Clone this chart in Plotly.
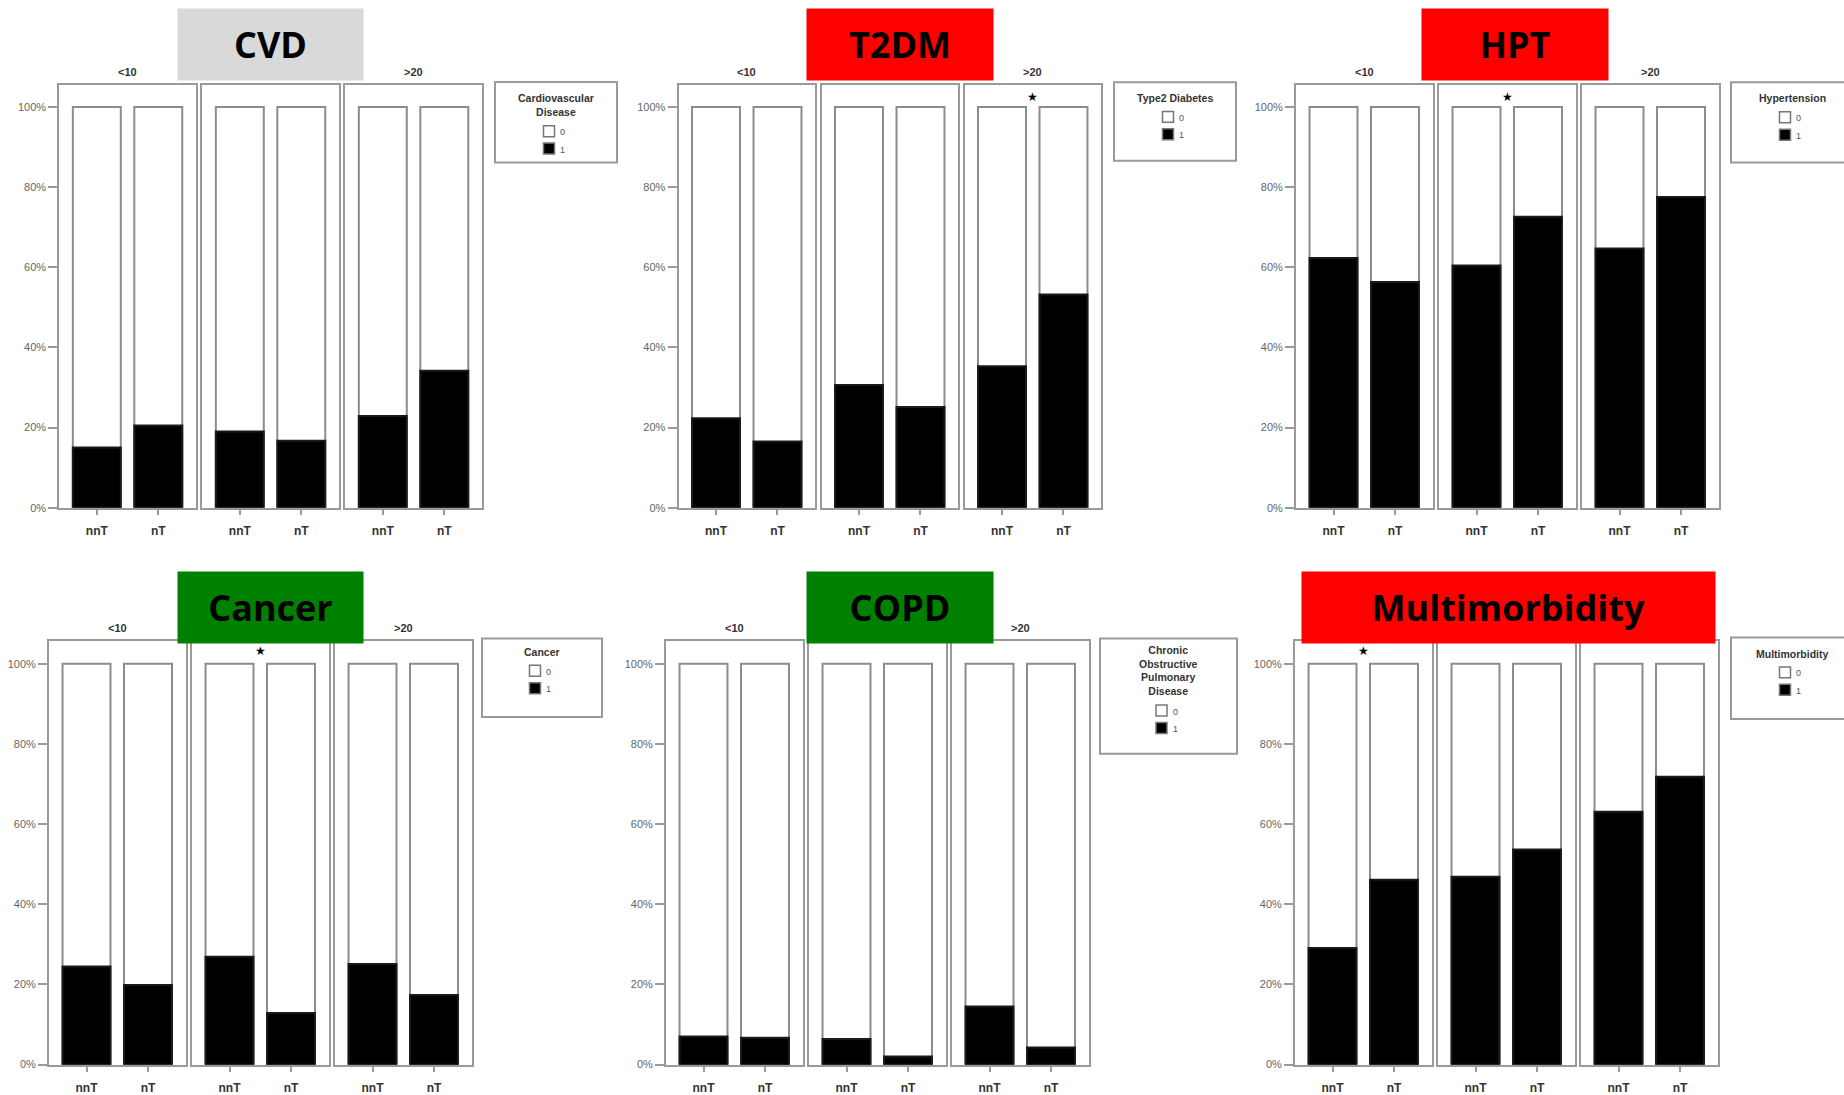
import plotly.graph_objects as go

# ---------------- data ----------------
groups = ["<10", "10–20", ">20"]
categories = ["nnT", "nT"]
outcomes = ["CVD", "T2DM", "HPT", "Cancer", "COPD", "Multimorbidity"]
legend_titles = ["Cardiovascular<br>Disease", "Type2 Diabetes", "Hypertension",
                 "Cancer", "Chronic<br>Obstructive<br>Pulmonary<br>Disease", "Multimorbidity"]
legend_levels = ["0", "1"]
title_colors = ["#d9d9d9", "#ff0000", "#ff0000", "#008000", "#008000", "#ff0000"]

total_pct = 100
cvd_nnT = [15.0, 19.0, 22.9]
cvd_nT = [20.5, 16.7, 34.2]
t2dm_nnT = [22.3, 30.6, 35.3]
t2dm_nT = [16.5, 25.1, 53.2]
hpt_nnT = [62.3, 60.4, 64.7]
hpt_nT = [56.3, 72.6, 77.5]
cancer_nnT = [24.5, 26.9, 25.1]
cancer_nT = [19.9, 12.9, 17.4]
copd_nnT = [7.0, 6.4, 14.5]
copd_nT = [6.7, 2.0, 4.3]
multi_nnT = [29.1, 46.9, 63.1]
multi_nT = [46.1, 53.7, 71.8]

# index of the age group marked significant (*) per outcome, None if none
significant_group = [None, 2, 1, 1, None, 0]

y_tickvals = [0, 20, 40, 60, 80, 100]
y_ticktext = ["0%", "20%", "40%", "60%", "80%", "100%"]

values_nnT = [cvd_nnT, t2dm_nnT, hpt_nnT, cancer_nnT, copd_nnT, multi_nnT]
values_nT = [cvd_nT, t2dm_nT, hpt_nT, cancer_nT, copd_nT, multi_nT]

# ---------------- layout geometry (pixels) ----------------
W, H = 1844, 1095
PANEL_X0 = [59.3, 678.5, 1296, 49, 666, 1295]
PANEL_W = 136.5
GAP = 6.5
ROW_Y = [(85, 510.5), (645, 1070.5)]          # frame top, 0% line
FACET_Y = [72.7, 631.5]
STAR_Y = [98, 655]
TITLE_BOX = [(177.5, 362.5, 9.5, 80.5), (806.5, 992.5, 9.5, 80.5), (1422, 1608, 9.5, 80.5),
             (177.5, 362.5, 575, 646), (806.5, 992.5, 575, 646), (1302, 1714.5, 575, 646)]
LEGEND_BOX = [(495, 617, 82.5, 163.5, 98.4), (1114, 1236, 82.7, 161.7, 98), (1731, 1853, 82.7, 163.4, 98.4),
              (482, 602, 642, 721, 655), (1100, 1237, 642, 758, 653), (1731, 1853, 641, 723, 656.6)]

FRAME = "#9a9a9a"
SMALL_FONT = "Liberation Sans"


def px(x):
    return x / W


def py(y):
    return 1 - y / H


fig = go.Figure()
layout = dict(
    width=W, height=H, margin=dict(l=0, r=0, t=0, b=0),
    paper_bgcolor="white", plot_bgcolor="white",
    barmode="overlay", showlegend=False,
)
annotations = []
shapes = []

for r, outcome in enumerate(outcomes):
    row = r // 3
    top, bot = ROW_Y[row]
    yr_top = total_pct * (bot - top) / (bot - (top + 22.5))
    tx0, tx1, ty0, ty1 = TITLE_BOX[r]
    for g, grp in enumerate(groups):
        k = r * 3 + g + 1
        sfx = "" if k == 1 else str(k)
        x0 = PANEL_X0[r] + g * (PANEL_W + GAP)
        x1 = x0 + PANEL_W
        layout["xaxis" + sfx] = dict(
            domain=[px(x0), px(x1)], anchor="y" + sfx, type="category",
            categoryorder="array", categoryarray=categories, range=[-0.61, 1.61],
            showline=True, mirror=True, linecolor=FRAME, linewidth=2,
            ticks="outside", ticklen=5, tickcolor=FRAME, tickwidth=1.5,
            ticklabelstandoff=6,
            tickfont=dict(family=SMALL_FONT, size=12, color="#333", weight="bold"),
            showgrid=False, zeroline=False, fixedrange=True,
        )
        ya = dict(
            domain=[py(bot), py(top)], anchor="x" + sfx, range=[0, yr_top],
            showline=True, mirror=True, linecolor=FRAME, linewidth=2,
            showgrid=False, zeroline=False, fixedrange=True,
        )
        if g == 0:
            ya.update(tickmode="array", tickvals=y_tickvals, ticktext=y_ticktext,
                      ticks="outside", ticklen=9, tickcolor=FRAME, tickwidth=1.5,
                      tickfont=dict(family=SMALL_FONT, size=11, color="#666"))
        else:
            ya.update(showticklabels=False, ticks="")
        layout["yaxis" + sfx] = ya

        fig.add_trace(go.Bar(
            x=categories, y=[total_pct, total_pct], width=0.78,
            marker=dict(color="white", line=dict(color="#8c8c8c", width=2)),
            xaxis="x" + sfx, yaxis="y" + sfx, hoverinfo="skip",
        ))
        fig.add_trace(go.Bar(
            x=categories, y=[values_nnT[r][g], values_nT[r][g]], width=0.78,
            marker=dict(color="black", line=dict(color="#1a1a1a", width=2)),
            xaxis="x" + sfx, yaxis="y" + sfx,
        ))

        # facet label (only where it is not hidden behind the title box)
        cx_panel = (x0 + x1) / 2
        hidden = tx0 <= cx_panel <= tx1 and ty0 <= FACET_Y[row] <= ty1
        if not hidden:
            annotations.append(dict(
                x=px(cx_panel), y=py(FACET_Y[row]), xref="paper", yref="paper",
                text=grp, showarrow=False, xanchor="center", yanchor="middle",
                font=dict(family=SMALL_FONT, size=11, color="#333", weight="bold"),
            ))
        if significant_group[r] == g:
            annotations.append(dict(
                x=px(cx_panel), y=py(STAR_Y[row]), xref="paper", yref="paper",
                text="★", showarrow=False, xanchor="center", yanchor="middle",
                font=dict(family="DejaVu Sans", size=12, color="black"),
            ))

    # legend box
    lx0, lx1, ly0, ly1, ltitle = LEGEND_BOX[r]
    cx = (lx0 + lx1) / 2
    shapes.append(dict(type="rect", xref="paper", yref="paper",
                       x0=px(lx0), x1=px(lx1), y0=py(ly1), y1=py(ly0),
                       line=dict(color=FRAME, width=2), fillcolor="rgba(0,0,0,0)"))
    nlines = legend_titles[r].count("<br>") + 1
    annotations.append(dict(
        x=px(cx), y=py(ltitle - 7.5), xref="paper", yref="paper",
        text=legend_titles[r], showarrow=False, xanchor="center", yanchor="top",
        align="center",
        font=dict(family=SMALL_FONT, size=10.5, color="#333", weight="bold"),
    ))
    last_line = ltitle + (nlines - 1) * 14
    for j, lev in enumerate(legend_levels):
        sy = last_line + 19.5 + j * 17.5
        shapes.append(dict(type="rect", xref="paper", yref="paper",
                           x0=px(cx - 12.5), x1=px(cx - 1.5), y0=py(sy + 5.5), y1=py(sy - 5.5),
                           line=dict(color="#777", width=1.5),
                           fillcolor="white" if j == 0 else "black"))
        annotations.append(dict(
            x=px(cx + 2), y=py(sy + 1), xref="paper", yref="paper",
            text=lev, showarrow=False, xanchor="left", yanchor="middle",
            font=dict(family=SMALL_FONT, size=9, color="#555"),
        ))

# title boxes
for r, outcome in enumerate(outcomes):
    tx0, tx1, ty0, ty1 = TITLE_BOX[r]
    annotations.append(dict(
        x=px((tx0 + tx1) / 2), y=py((ty0 + ty1) / 2), xref="paper", yref="paper",
        text=outcome, showarrow=False, xanchor="center", yanchor="middle",
        width=tx1 - tx0, height=ty1 - ty0, bgcolor=title_colors[r], borderpad=0,
        valign="middle", align="center",
        font=dict(family="Open Sans", size=36, color="black", weight="bold"),
    ))

layout["annotations"] = annotations
layout["shapes"] = shapes
fig.update_layout(**layout)
fig.write_html("out.html")
